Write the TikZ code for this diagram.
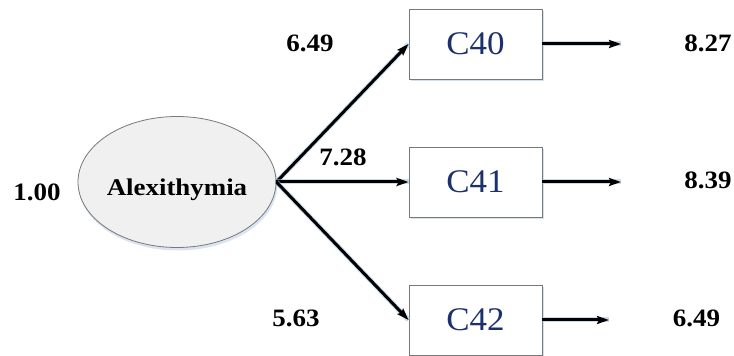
\documentclass[tikz,border=0pt]{standalone}
\usepackage{fontspec}
\setmainfont{Liberation Serif}
\usetikzlibrary{arrows.meta,shapes.geometric}
\definecolor{varblue}{RGB}{28,48,110}
\definecolor{glow}{RGB}{120,160,210}
\definecolor{latfill}{RGB}{240,240,240}
\definecolor{edge}{RGB}{120,120,120}
\newcommand{\coeftext}[1]{\scalebox{1.08}[1]{\bfseries\fontsize{25}{25}\selectfont #1}}
\newcommand{\vartext}[1]{\scalebox{1.06}[1]{\fontsize{33}{33}\selectfont #1}}
\tikzset{
  latent/.style={ellipse, draw=edge, line width=0.8pt, fill=latfill,
    minimum width=198pt, minimum height=131pt, inner sep=0pt},
  observed/.style={rectangle, draw=edge, line width=0.9pt, fill=white,
    minimum width=133pt, minimum height=70pt, inner sep=0pt, text=varblue},
  boxshadow/.style={fill=glow!40, opacity=0.8},
  coef/.style={inner sep=0pt},
  path glow/.style={draw=glow!70, line width=5pt, opacity=0.55},
  path/.style={draw=black, line width=3pt,
    -{Stealth[length=12pt,width=8pt,inset=2pt]}},
}
\begin{document}
\begin{tikzpicture}[x=1pt,y=1pt]
  \useasboundingbox (0,0) rectangle (734,356);

  % soft shadow under the latent variable
  \fill[glow!35, opacity=0.8] (178,171.5) ellipse [x radius=99.5, y radius=66];
  \node[latent] (alex) at (177,174) {};
  \node[coef] (alexlab) at (177,166) {\scalebox{1.12}[1]{\bfseries\fontsize{24}{24}\selectfont Alexithymia}};
  \node[coef] (varlat) at (37,164) {\coeftext{1.00}};

  % indicators, each with a thin shadow along its lower and right edges
  \fill[boxshadow] (410.5,275) rectangle (543.5,345);
  \node[observed] (c40) at (475.5,312) {\vartext{C40}};
  \fill[boxshadow] (410.5,137) rectangle (543.5,207);
  \node[observed] (c41) at (475.5,174) {\vartext{C41}};
  \fill[boxshadow] (410.5,-1) rectangle (543.5,69);
  \node[observed] (c42) at (475.5,36) {\vartext{C42}};

  % error terms
  \coordinate (e40) at (621,312);
  \coordinate (e41) at (621,174);
  \coordinate (e42) at (609,36);

  % loadings
  \foreach \t in {c40,c41,c42}{
    \draw[path glow] (alex.east) -- (\t.west);
    \draw[path] (alex.east) -- (\t.west);
  }
  \foreach \s/\t in {c40/e40,c41/e41,c42/e42}{
    \draw[path glow] (\s.east) -- (\t);
    \draw[path] (\s.east) -- (\t);
  }

  % estimates
  \node[coef] (l40) at (310,313) {\coeftext{6.49}};
  \node[coef] (l41) at (343,198.5) {\coeftext{7.28}};
  \node[coef] (l42) at (296,38) {\coeftext{5.63}};
  \node[coef] (r40) at (708,312.5) {\coeftext{8.27}};
  \node[coef] (r41) at (708,176) {\coeftext{8.39}};
  \node[coef] (r42) at (696.5,38) {\coeftext{6.49}};
\end{tikzpicture}
\end{document}
